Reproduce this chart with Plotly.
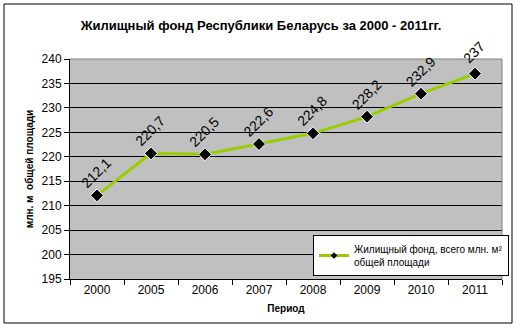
import plotly.graph_objects as go

# Housing stock of the Republic of Belarus, mln m² of total floor area
years = ["2000", "2005", "2006", "2007", "2008", "2009", "2010", "2011"]
housing = [212.1, 220.7, 220.5, 222.6, 224.8, 228.2, 232.9, 237.0]
value_labels = ["212,1", "220,7", "220,5", "222,6", "224,8", "228,2", "232,9", "237"]
y_ticks = [195, 200, 205, 210, 215, 220, 225, 230, 235, 240]

W, H = 522, 329
L, R, T, B = 70, 20, 59, 50
pw, ph = W - L - R, H - T - B

pos = list(range(len(years)))
boundaries = [i - 0.5 for i in range(len(years) + 1)]
series_name = "Жилищный фонд, всего млн. м²<br>общей площади"
line_color = "#9ACD00"


def px_x(x):
    return (x - L) / pw


def px_y(y):
    return (H - B - y) / ph


fig = go.Figure()
fig.add_trace(go.Scatter(
    x=pos, y=housing, mode="lines+markers", showlegend=False,
    line=dict(color=line_color, width=3),
    marker=dict(symbol="diamond", size=10, color="black",
                line=dict(color="white", width=1)),
))
# legend entry with a small marker
fig.add_trace(go.Scatter(
    x=[None], y=[None], mode="lines+markers", name=series_name,
    line=dict(color=line_color, width=3),
    marker=dict(symbol="diamond", size=5, color="black"),
))

annotations = [
    dict(x=p, y=v, text=lab, showarrow=False, textangle=-45,
         yshift=22, xshift=-1,
         font=dict(family="Arial", size=14, color="black"))
    for p, v, lab in zip(pos, housing, value_labels)
]

fig.update_layout(
    width=W, height=H,
    margin=dict(l=L, r=R, t=T, b=B),
    paper_bgcolor="white", plot_bgcolor="#C0C0C0",
    title=dict(text="<b>Жилищный фонд Республики Беларусь за 2000 - 2011гг.</b>",
               x=0.5, xref="container", y=1 - 25 / H, yref="container",
               xanchor="center", yanchor="middle",
               font=dict(family="Arial", size=13, color="black")),
    xaxis=dict(range=[-0.5, len(years) - 0.5], tickvals=pos, ticktext=years,
               ticks="", showline=True, linecolor="black",
               showgrid=False, zeroline=False,
               minor=dict(tickvals=boundaries, ticks="outside", ticklen=5,
                          tickcolor="black", showgrid=False),
               tickfont=dict(family="Arial", size=12, color="black"),
               title=dict(text="<b>Период</b>", standoff=8,
                          font=dict(family="Arial", size=10, color="black"))),
    yaxis=dict(range=[195, 240], tickvals=y_ticks, ticks="outside",
               ticklen=5, tickcolor="black", showline=True, linecolor="black",
               gridcolor="black", gridwidth=1, zeroline=False,
               tickfont=dict(family="Arial", size=12, color="black"),
               title=dict(text="<b>млн. м  общей площади</b>", standoff=6,
                          font=dict(family="Arial", size=10, color="black"))),
    showlegend=True,
    legend=dict(x=px_x(313), y=px_y(235), xanchor="left", yanchor="top",
                bgcolor="white", bordercolor="black", borderwidth=1,
                font=dict(family="Arial", size=10, color="black"),
                itemwidth=30, tracegroupgap=0),
    annotations=annotations,
    shapes=[
        dict(type="rect", xref="paper", yref="paper",
             x0=px_x(4), x1=px_x(512), y0=px_y(4), y1=px_y(323),
             line=dict(color="black", width=1), layer="below"),
        dict(type="line", xref="paper", yref="paper",
             x0=1, x1=1, y0=0, y1=1, line=dict(color="#808080", width=1)),
        dict(type="line", xref="paper", yref="paper",
             x0=0, x1=1, y0=1, y1=1, line=dict(color="#808080", width=1)),
    ],
)

fig.write_html("out.html")
